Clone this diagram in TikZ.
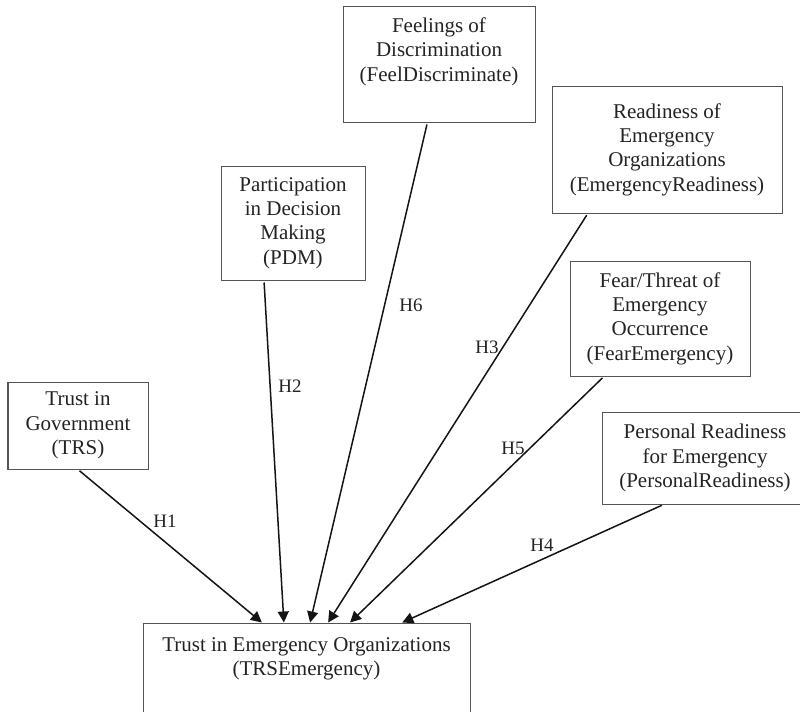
\documentclass[tikz,border=0pt]{standalone}
\usepackage{fontspec}
\setmainfont{Liberation Serif}
\usetikzlibrary{positioning,calc,arrows.meta}
\definecolor{modelline}{RGB}{85,85,85}
\definecolor{modelpath}{RGB}{20,20,20}
\definecolor{modeltext}{RGB}{35,35,35}

\begin{document}
\begin{tikzpicture}[x=0.5pt,y=-0.5pt,
  construct/.style={draw=modelline,line width=0.5pt,align=center,inner sep=0pt,text=modeltext,font=\fontsize{10.5pt}{12.2pt}\selectfont},
  hyp/.style={text=modeltext,inner sep=0pt,font=\fontsize{9.5pt}{11pt}\selectfont},
  hpath/.style={draw=modelpath,line width=0.75pt,shorten <=1pt,-{Triangle[length=5.5pt,width=5.5pt]}}]
\useasboundingbox (0,0) rectangle (800,712);
\clip (0,0) rectangle (800,712);
% Trust in Government
\node[construct,minimum width=70pt,minimum height=43.5pt] (trs) at (78,425.5) {Trust in\\Government\\(TRS)};
% Participation in Decision Making
\node[construct,minimum width=72pt,minimum height=57pt] (pdm) at (293,223) {Participation\\in Decision\\Making\\(PDM)};
% Feelings of Discrimination
\node[construct,minimum width=96pt,minimum height=58pt] (feel) at (439,64) {};
\node[construct,draw=none,anchor=north] (feeltxt) at (439,17) {Feelings of\\Discrimination\\(FeelDiscriminate)};
% Readiness of Emergency Organizations
\node[construct,minimum width=115pt,minimum height=63.5pt] (ready) at (667,149.5) {Readiness of\\Emergency\\Organizations\\(EmergencyReadiness)};
% Fear/Threat of Emergency Occurrence
\node[construct,minimum width=90pt,minimum height=57.5pt] (fear) at (660,318.5) {Fear/Threat of\\Emergency\\Occurrence\\(FearEmergency)};
% Personal Readiness for Emergency
\node[construct,minimum width=103pt,minimum height=46pt] (pers) at (705,458) {Personal Readiness\\for Emergency\\(PersonalReadiness)};
% Trust in Emergency Organizations
\node[construct,minimum width=163.5pt,minimum height=68.5pt] (trse) at (306.5,691.5) {};
\node[construct,draw=none,anchor=north] (trsetxt) at (306.5,637) {Trust in Emergency Organizations\\(TRSEmergency)};
% hypotheses
\draw[hpath] (trs.south) -- ($(trse.north west)!0.364!(trse.north east)$);
\draw[hpath] ($(pdm.south west)!0.3!(pdm.south east)$) -- ($(trse.north west)!0.431!(trse.north east)$);
\draw[hpath] ($(feel.south west)!0.44!(feel.south east)$) -- ($(trse.north west)!0.511!(trse.north east)$);
\draw[hpath] ($(ready.south west)!0.157!(ready.south east)$) -- ($(trse.north west)!0.566!(trse.north east)$);
\draw[hpath] ($(fear.south west)!0.19!(fear.south east)$) -- ($(trse.north west)!0.633!(trse.north east)$);
\draw[hpath] ($(pers.south west)!0.3!(pers.south east)$) -- ($(trse.north west)!0.792!(trse.north east)$);
\node[hyp] (h1) at (165,521) {H1};
\node[hyp] (h2) at (290,386) {H2};
\node[hyp] (h6) at (411,305) {H6};
\node[hyp] (h3) at (487,347) {H3};
\node[hyp] (h5) at (513,448) {H5};
\node[hyp] (h4) at (542,545) {H4};
\end{tikzpicture}
\end{document}
